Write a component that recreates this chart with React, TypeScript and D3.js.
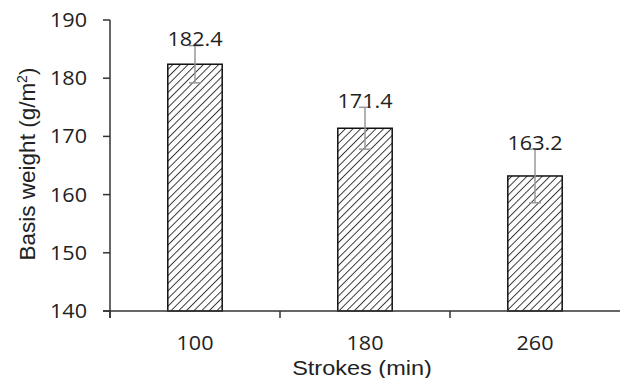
import React from "react";
import * as d3 from "d3";

const categories = ["100", "180", "260"];
const values = [182.4, 171.4, 163.2];
const errors = [3.2, 3.6, 4.6];
const yTicks = [140, 150, 160, 170, 180, 190];

const W = 620;
const H = 378;
const margin = { left: 110, right: 0, top: 20, bottom: 67 };
const NUM_FONT = "'Open Sans', 'Liberation Sans', Arial, sans-serif";
const TITLE_FONT = "'Liberation Sans', Arial, sans-serif";
const SX = 1.08; // horizontal widening of number labels

export default function App() {
  const x = d3
    .scaleBand<string>()
    .domain(categories)
    .range([margin.left, W - margin.right])
    .paddingInner(0)
    .paddingOuter(0);
  const y = d3.scaleLinear().domain([140, 190]).range([H - margin.bottom, margin.top]);
  const barW = x.bandwidth() * 0.32;
  const base = y(140);

  const num = (key: string, tx: number, ty: number, anchor: string, label: string) => (
    <text
      key={key}
      transform={`translate(${tx},${ty}) scale(${SX},1)`}
      textAnchor={anchor}
      fontFamily={NUM_FONT}
      fontSize={20}
      fill="#222"
    >
      {label}
    </text>
  );

  return (
    <svg
      width={W}
      height={H}
      style={{ position: "absolute", left: 0, top: 0, background: "#fff" }}
    >
      <defs>
        <pattern
          id="hatch"
          patternUnits="userSpaceOnUse"
          width={5.4}
          height={5.4}
          patternTransform="rotate(45)"
        >
          <rect width={5.4} height={5.4} fill="#fff" />
          <line x1={0} y1={0} x2={0} y2={5.4} stroke="#333" strokeWidth={1.9} />
        </pattern>
      </defs>

      {/* bars */}
      {values.map((v, i) => {
        const cx = x(categories[i])! + x.bandwidth() / 2;
        return (
          <rect
            key={"b" + i}
            x={cx - barW / 2}
            y={y(v)}
            width={barW}
            height={base - y(v)}
            fill="url(#hatch)"
            stroke="#111"
            strokeWidth={1.5}
          />
        );
      })}

      {/* error bars */}
      {values.map((v, i) => {
        const cx = x(categories[i])! + x.bandwidth() / 2;
        const top = y(v + errors[i]);
        const bot = y(v - errors[i]);
        return (
          <g key={"e" + i} stroke="#999" strokeWidth={1.5}>
            <line x1={cx} x2={cx} y1={top} y2={bot} />
            <line x1={cx - 6} x2={cx + 6} y1={top} y2={top} />
            <line x1={cx - 6} x2={cx + 6} y1={bot} y2={bot} />
          </g>
        );
      })}

      {/* value labels */}
      {values.map((v, i) => {
        const cx = x(categories[i])! + x.bandwidth() / 2;
        return num("l" + i, cx, y(v + errors[i]) + 0.5, "middle", v.toFixed(1));
      })}

      {/* y axis */}
      <line x1={margin.left} x2={margin.left} y1={y(190)} y2={base + 7} stroke="#333" strokeWidth={1.5} />
      {yTicks.map((t) => (
        <g key={"yt" + t}>
          <line x1={margin.left - 7} x2={margin.left} y1={y(t)} y2={y(t)} stroke="#333" strokeWidth={1.5} />
          {num("ytl" + t, margin.left - 23, y(t) + 7, "end", String(t))}
        </g>
      ))}

      {/* x axis */}
      <line x1={margin.left - 7} x2={W} y1={base} y2={base} stroke="#333" strokeWidth={1.5} />
      {categories.map((c) => (
        <line
          key={"xt" + c}
          x1={x(c)!}
          x2={x(c)!}
          y1={base}
          y2={base + 7}
          stroke="#333"
          strokeWidth={1.5}
        />
      ))}
      {categories.map((c) => num("xl" + c, x(c)! + x.bandwidth() / 2, 350, "middle", c))}

      {/* axis titles */}
      <text
        transform={`translate(${(margin.left + W) / 2 - 3},375) scale(1.12,1)`}
        textAnchor="middle"
        fontFamily={TITLE_FONT}
        fontSize={21}
        fill="#222"
      >
        Strokes (min)
      </text>
      <text
        transform={`translate(35, 164) rotate(-90)`}
        textAnchor="middle"
        fontFamily={TITLE_FONT}
        fontSize={22.5}
        fill="#222"
      >
        Basis weight (g/m
        <tspan dy={-8} fontSize={14}>
          2
        </tspan>
        <tspan dy={8}>)</tspan>
      </text>
    </svg>
  );
}
